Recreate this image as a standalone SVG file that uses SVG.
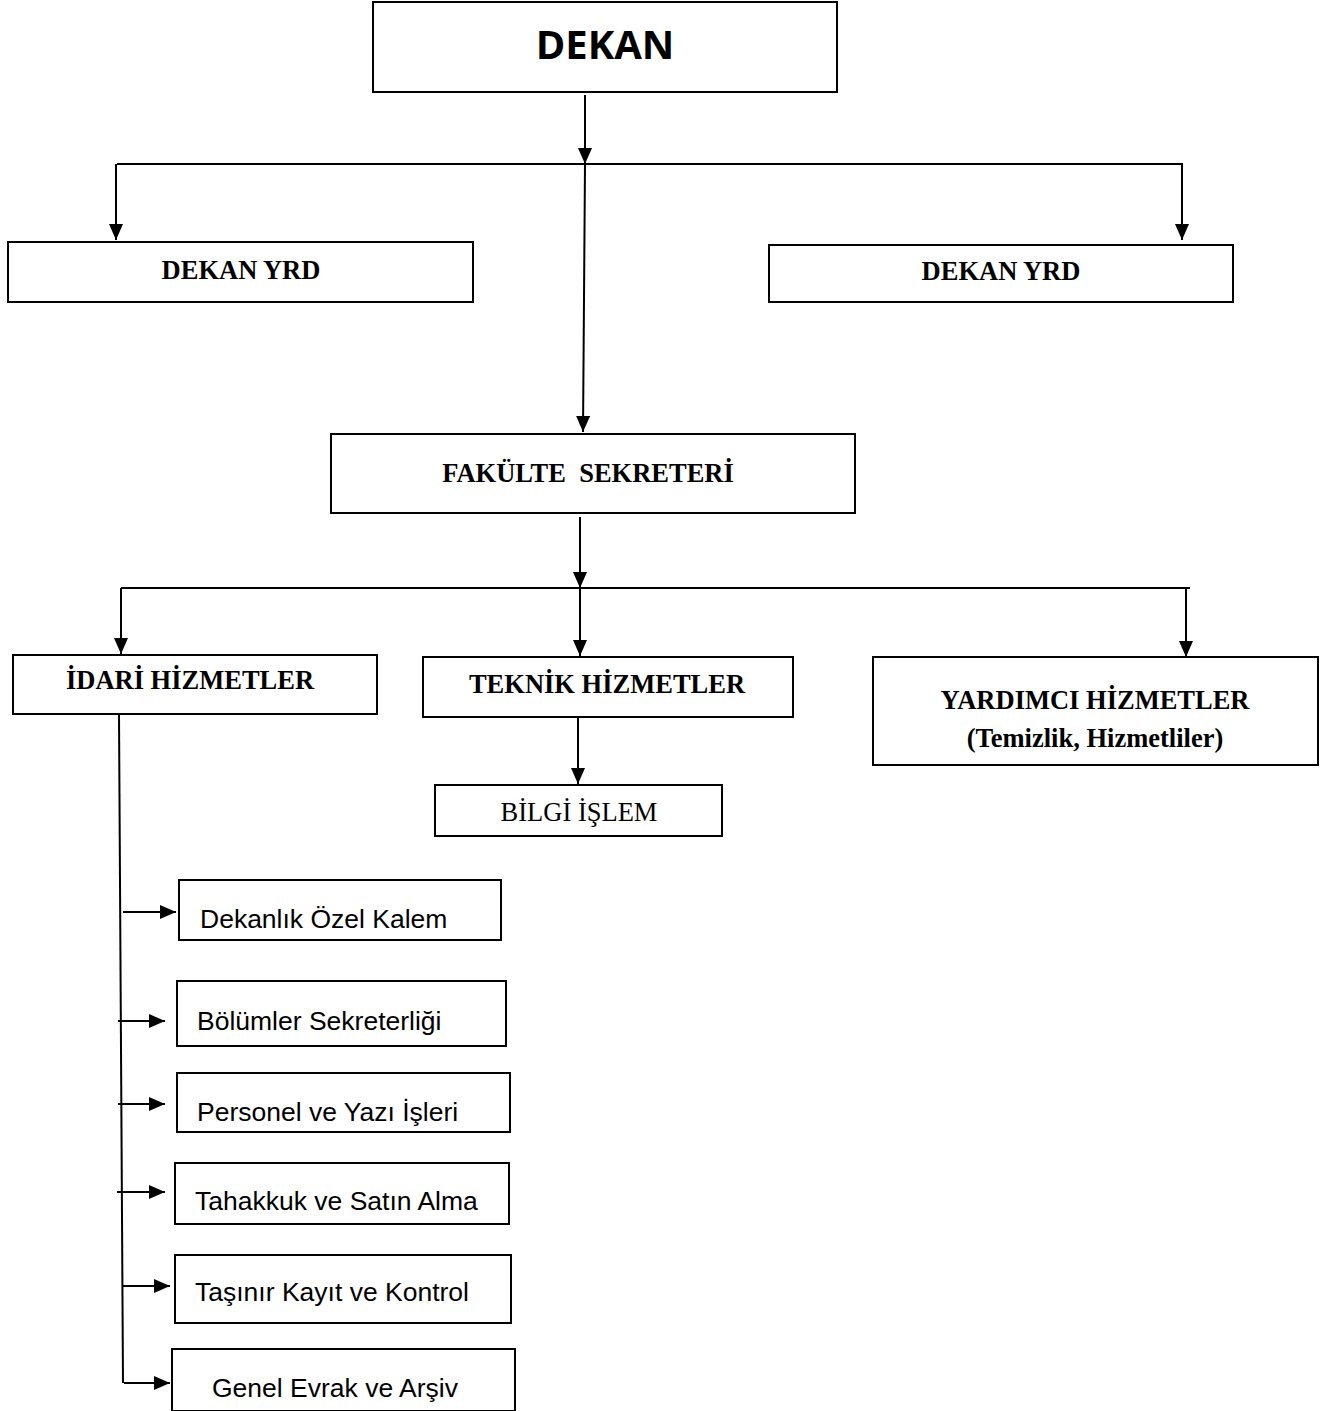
<svg xmlns="http://www.w3.org/2000/svg" width="1341" height="1411" viewBox="0 0 1341 1411">
<defs>
<marker id="ah" viewBox="0 0 16 14" refX="16" refY="7" markerWidth="16" markerHeight="14" markerUnits="userSpaceOnUse" orient="auto">
<path d="M0,0 L16,7 L0,14 Z" fill="#000"/>
</marker>
<style>
.box{fill:#fff;stroke:#000;stroke-width:2}
.ln{fill:none;stroke:#000;stroke-width:2}
.arr{fill:none;stroke:#000;stroke-width:2;marker-end:url(#ah)}
.tb{font-family:"Liberation Serif","Times New Roman",serif;font-weight:bold;font-size:26.5px;text-anchor:middle;fill:#000}
.tr{font-family:"Liberation Serif","Times New Roman",serif;font-size:26.5px;text-anchor:middle;fill:#000}
.ta{font-family:"Liberation Sans",Arial,sans-serif;font-size:26.5px;fill:#000}
.td{font-family:"Open Sans","Liberation Sans",sans-serif;font-weight:bold;font-size:40px;text-anchor:middle;fill:#000}
</style>
</defs>
<rect width="1341" height="1411" fill="#fff"/>
<g id="connectors">
<path class="arr" d="M585,95 L585,164"/>
<path class="ln" d="M117,164 L1183,164"/>
<path class="arr" d="M116,164 L116,240"/>
<path class="arr" d="M1182,164 L1182,240"/>
<path class="arr" d="M585,164 L583,432"/>
<path class="arr" d="M580,517 L580,588"/>
<path class="ln" d="M121,588 L1190,588"/>
<path class="arr" d="M121,588 L121,654"/>
<path class="arr" d="M580,588 L580,656"/>
<path class="arr" d="M1186,588 L1186,657"/>
<path class="arr" d="M578,717 L578,784"/>
<path class="ln" d="M119,715 L123,1383"/>
<path class="arr" d="M123,912 L176,912"/>
<path class="arr" d="M118,1021 L165,1021"/>
<path class="arr" d="M118,1104 L165,1104"/>
<path class="arr" d="M117,1192 L165,1192"/>
<path class="arr" d="M123,1286 L170,1286"/>
<path class="arr" d="M124,1383 L170,1383"/>
</g>
<g id="dekan"><rect class="box" x="373" y="2" width="464" height="90"/><text class="td" x="605" y="59">DEKAN</text></g>
<g id="dekan-yrd-1"><rect class="box" x="8" y="242" width="465" height="60"/><text class="tb" x="241" y="279">DEKAN YRD</text></g>
<g id="dekan-yrd-2"><rect class="box" x="769" y="245" width="464" height="57"/><text class="tb" x="1001" y="280">DEKAN YRD</text></g>
<g id="fakulte-sekreteri"><rect class="box" x="331" y="434" width="524" height="79"/><text class="tb" x="588" y="482" xml:space="preserve">FAKÜLTE  SEKRETERİ</text></g>
<g id="idari"><rect class="box" x="13" y="655" width="364" height="59"/><text class="tb" x="190" y="689">İDARİ HİZMETLER</text></g>
<g id="teknik"><rect class="box" x="423" y="657" width="370" height="60"/><text class="tb" x="607" y="693">TEKNİK HİZMETLER</text></g>
<g id="yardimci"><rect class="box" x="873" y="657" width="445" height="108"/><text class="tb" x="1095" y="709">YARDIMCI HİZMETLER</text><text class="tb" x="1095" y="747">(Temizlik, Hizmetliler)</text></g>
<g id="bilgi-islem"><rect class="box" x="435" y="785" width="287" height="51"/><text class="tr" x="579" y="821">BİLGİ İŞLEM</text></g>
<g id="ozel-kalem"><rect class="box" x="179" y="880" width="322" height="60"/><text class="ta" x="200" y="928">Dekanlık Özel Kalem</text></g>
<g id="bolumler"><rect class="box" x="177" y="981" width="329" height="65"/><text class="ta" x="197" y="1030">Bölümler Sekreterliği</text></g>
<g id="personel"><rect class="box" x="177" y="1073" width="333" height="59"/><text class="ta" x="197" y="1121">Personel ve Yazı İşleri</text></g>
<g id="tahakkuk"><rect class="box" x="175" y="1163" width="334" height="61"/><text class="ta" x="195" y="1210">Tahakkuk ve Satın Alma</text></g>
<g id="tasinir"><rect class="box" x="175" y="1255" width="336" height="68"/><text class="ta" x="195" y="1301">Taşınır Kayıt ve Kontrol</text></g>
<g id="genel-evrak"><rect class="box" x="172" y="1349" width="343" height="62"/><text class="ta" x="212" y="1397">Genel Evrak ve Arşiv</text></g>
</svg>
